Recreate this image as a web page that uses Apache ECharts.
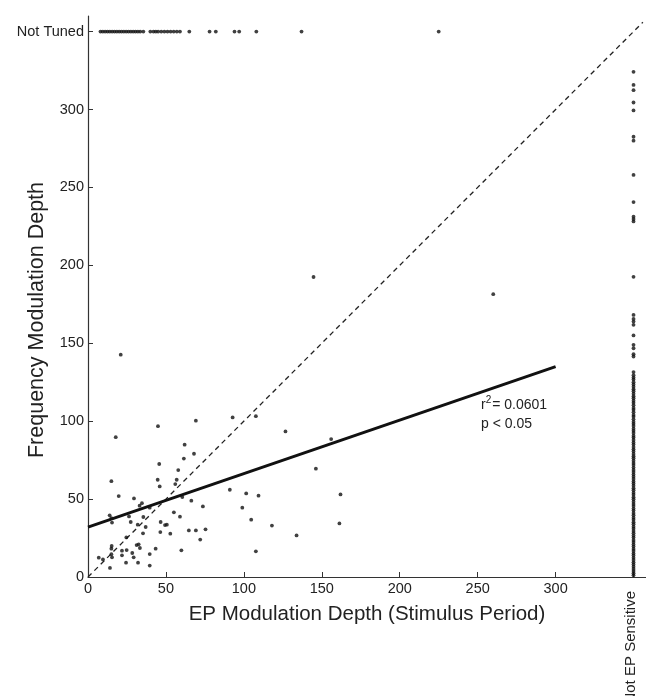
<!DOCTYPE html>
<html>
<head>
<meta charset="utf-8">
<script src="https://cdn.jsdelivr.net/npm/echarts@6/dist/echarts.min.js"></script>
<style>
html,body{margin:0;padding:0;background:#fff;}
#chart{width:646px;height:696px;}
</style>
</head>
<body>
<div id="chart"></div>
<script>
// ---- data ----
const tickValues = [0, 50, 100, 150, 200, 250, 300, 350];
const notTunedValue = 350;      // y position of the "Not Tuned" row
const notSensitiveValue = 350;  // x position of the "Not EP Sensitive" column
const yTopLabel = 'Not Tuned';
const xRightLabel = 'Not EP Sensitive';
const xTitle = 'EP Modulation Depth (Stimulus Period)';
const yTitle = 'Frequency Modulation Depth';

// cells that are both EP sensitive and tuned: [EP depth, frequency depth]
const mainPoints = [
  [17.8,89.7],[44.9,96.8],[69.2,100.3],[92.8,102.4],[107.7,103.2],[62,84.9],[68,79.1],
  [45.7,72.5],[61.5,76],[57.9,68.6],[15,61.5],[44.7,62.4],[56.9,62.4],[56,59.6],[46,58.1],
  [19.7,51.9],[29.5,50.4],[60.5,51.3],[66.3,49],[91,56],[101.5,53.6],[109.4,52.2],[99,44.5],
  [104.7,36.8],[118,33],[107.7,16.5],[73.7,45.3],[34.6,47.4],[33.1,45.8],[39.6,44.5],
  [13.9,39.6],[15,37.8],[15.4,34.9],[26.3,38.9],[27.4,35.3],[31.9,33.6],[35.5,38.5],[37,32.1],
  [46.6,35.3],[49.4,33.3],[50.6,33.6],[55.1,41.5],[59,38.7],[46.4,28.8],[52.8,27.8],[35.3,28],
  [24.6,25.4],[64.7,29.9],[69.2,29.9],[75.4,30.6],[72,24],[59.9,17.1],[15.2,19.9],[15,18.2],
  [15,14.6],[15.4,12.6],[21.8,16.9],[21.8,13.9],[24.8,17.3],[28.4,15.4],[29.3,12.6],[24.4,9.2],
  [32.1,9.2],[31.2,20.5],[32.5,21],[33.3,18.6],[39.6,14.7],[39.6,7.3],[43.4,18.2],[6.9,12.4],
  [9.6,11.3],[14.1,5.8],[21,142.7],[126.7,93.4],[133.8,26.7],[144.7,192.5],[146.2,69.5],
  [156,88.5],[161.3,34.4],[162,53],[260,181.5]
];

// EP depths of cells that are not frequency tuned
const notTunedX = [8,9.5,11,12.5,14,15.5,17,18.5,20,21.5,23,24.5,26,27.5,29,30.5,32,33.5,35.5,
  40,42,43.5,45,47,49,51,53,55,57,59,65,78,82,94,97,108,137,225];

// frequency depths of cells that are not EP sensitive
const notSensitiveY = [324.2,315.8,312.4,304.5,299.4,282.5,280,258,240.6,231.2,229.7,228.2,192.6,
  168.2,165.6,163.9,161.8,155,149,146.8,143,141.5,
  131.5,129.5,128,126.8,125,123.6,122.1,120.5,119.2,117.6,116,114.7,113.1,111.8,110.2,108.5,107.3,105.8,
  104,102.9,101.2,99.6,98.3,96.9,95.2,93.8,92.4,90.7,89.5,87.9,86.3,85,83.4,81.9,80.6,79,77.5,
  76.2,74.6,73.1,71.8,70.2,68.7,67.3,65.8,64.4,62.9,61.3,60,58.6,57,55.7,54.1,52.8,51.2,49.9,
  48.3,46.8,45.5,43.9,42.6,41,39.7,38.1,36.8,35.2,33.9,32.3,31,29.5,28.1,26.6,25.3,23.7,22.4,
  20.9,19.5,18,16.7,15.1,13.8,12.3,10.9,9.4,8.1,6.6,5.2,3.8,2.4,1.1];

const identityLine = [[0,0],[356,356]];
const fitLine = [[0,32],[300,135]];
const statsText1 = '= 0.0601';
const statsText2 = 'p < 0.05';

// ---- chart ----
const FONT = 'Liberation Sans, Arial, Helvetica, sans-serif';
const chart = echarts.init(document.getElementById('chart'), null, {renderer:'canvas'});

const axisCommon = {
  type: 'value',
  min: 0,
  interval: 50,
  splitLine: {show: false},
  axisLine: {show: true, onZero: false, lineStyle: {color: '#333', width: 1.2}},
  axisTick: {show: true, inside: true, length: 5, lineStyle: {color: '#333'}, customValues: tickValues}
};

chart.setOption({
  animation: false,
  backgroundColor: '#fff',
  grid: {left: 88, right: 0, top: 16, bottom: 119, containLabel: false},
  xAxis: Object.assign({}, axisCommon, {
    max: 358,
    axisLabel: {
      customValues: tickValues.filter(v => v !== notSensitiveValue),
      fontSize: 14.5, color: '#222', margin: 4, fontFamily: FONT
    },
    name: xTitle,
    nameLocation: 'middle',
    nameGap: 27,
    nameTextStyle: {fontSize: 20.5, color: '#222', fontFamily: FONT}
  }),
  yAxis: Object.assign({}, axisCommon, {
    max: 360,
    axisLabel: {
      customValues: tickValues,
      formatter: v => (v === notTunedValue ? yTopLabel : String(v)),
      fontSize: 14.5, color: '#222', margin: 4, fontFamily: FONT
    }
  }),
  graphic: [
    {
      type: 'text', x: 37, y: 320, rotation: Math.PI / 2,
      style: {text: yTitle, fontSize: 21.5, fill: '#222', fontFamily: FONT, textAlign: 'center', textVerticalAlign: 'middle'}
    },
    {
      type: 'text', x: 631, y: 591, rotation: Math.PI / 2,
      style: {text: xRightLabel, fontSize: 15, fill: '#222', fontFamily: FONT, textAlign: 'right', textVerticalAlign: 'middle'}
    },
    {
      type: 'text', x: 481, y: 405,
      style: {
        text: 'r{sup|2}' + statsText1, fontSize: 14, fill: '#222', fontFamily: FONT,
        textAlign: 'left', textVerticalAlign: 'middle',
        rich: {sup: {fontSize: 10, fontFamily: FONT, fill: '#222', padding: [0, 1, 9, 0]}}
      }
    },
    {
      type: 'text', x: 481, y: 424,
      style: {text: statsText2, fontSize: 14, fill: '#222', fontFamily: FONT, textAlign: 'left', textVerticalAlign: 'middle'}
    }
  ],
  series: [
    {
      type: 'line', data: identityLine, symbol: 'none', silent: true, z: 1,
      lineStyle: {type: [5, 4], width: 1.3, color: '#222'}
    },
    {
      type: 'line', data: fitLine, symbol: 'none', silent: true, z: 3,
      lineStyle: {width: 3, color: '#111'}
    },
    {
      type: 'scatter', data: mainPoints, symbolSize: 3.8, z: 4,
      itemStyle: {color: '#111'}
    },
    {
      type: 'scatter', data: notTunedX.map(x => [x, notTunedValue]), symbolSize: 3.8, z: 4,
      itemStyle: {color: '#111'}
    },
    {
      type: 'scatter', data: notSensitiveY.map(y => [notSensitiveValue, y]), symbolSize: 3.8, z: 4,
      itemStyle: {color: '#111'}
    }
  ]
});
</script>
</body>
</html>
